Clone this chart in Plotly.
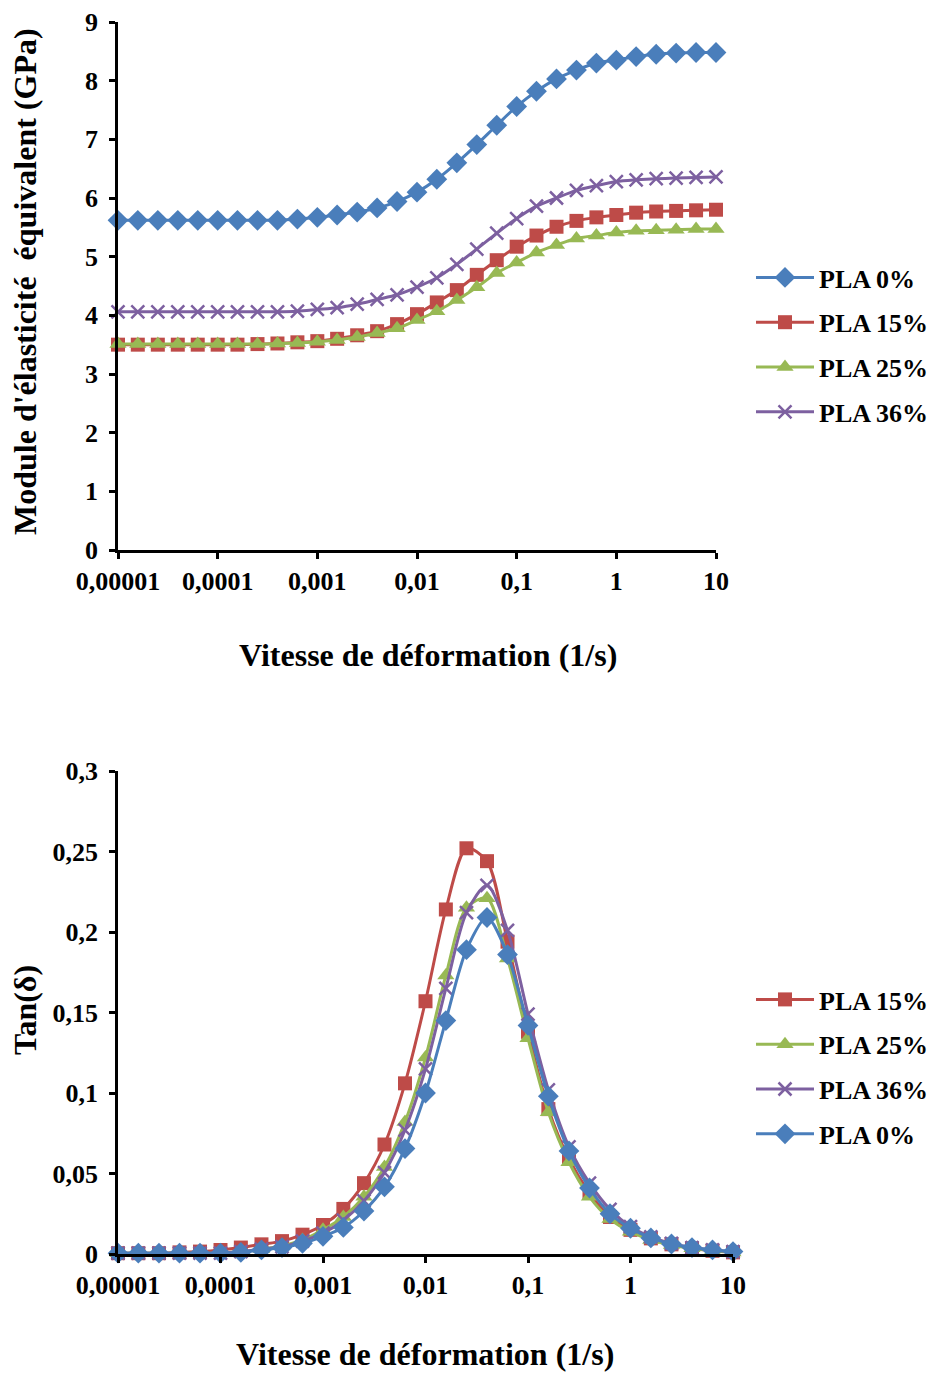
import plotly.graph_objects as go

# Strain rate (1/s), 5 points per decade
rates = [0.00001, 0.0000158, 0.0000251, 0.0000398, 0.0000631,
         0.0001, 0.000158, 0.000251, 0.000398, 0.000631,
         0.001, 0.00158, 0.00251, 0.00398, 0.00631,
         0.01, 0.0158, 0.0251, 0.0398, 0.0631,
         0.1, 0.158, 0.251, 0.398, 0.631,
         1, 1.58, 2.51, 3.98, 6.31, 10]

# Equivalent elastic modulus (GPa)
E_pla0 = [5.62, 5.62, 5.62, 5.62, 5.62, 5.62, 5.62, 5.62, 5.62, 5.64,
          5.67, 5.71, 5.76, 5.83, 5.94, 6.10, 6.32, 6.60, 6.91, 7.24,
          7.56, 7.82, 8.03, 8.18, 8.30, 8.35, 8.41, 8.45, 8.47, 8.48, 8.48]
E_pla15 = [3.50, 3.50, 3.50, 3.50, 3.50, 3.50, 3.50, 3.51, 3.52, 3.54,
           3.56, 3.60, 3.66, 3.73, 3.85, 4.02, 4.22, 4.43, 4.69, 4.94,
           5.17, 5.36, 5.51, 5.61, 5.67, 5.71, 5.75, 5.77, 5.78, 5.79, 5.80]
E_pla25 = [3.51, 3.51, 3.51, 3.51, 3.51, 3.51, 3.51, 3.51, 3.52, 3.53,
           3.55, 3.58, 3.63, 3.70, 3.78, 3.92, 4.07, 4.26, 4.48, 4.72,
           4.90, 5.07, 5.20, 5.31, 5.36, 5.41, 5.44, 5.45, 5.46, 5.47, 5.47]
E_pla36 = [4.06, 4.06, 4.06, 4.06, 4.06, 4.06, 4.06, 4.06, 4.06, 4.07,
           4.10, 4.13, 4.19, 4.27, 4.35, 4.48, 4.64, 4.87, 5.13, 5.40,
           5.65, 5.86, 6.00, 6.13, 6.21, 6.28, 6.31, 6.33, 6.34, 6.35, 6.36]

# Tan(delta)
T_pla15 = [0.0005, 0.0005, 0.0005, 0.001, 0.0015, 0.0025, 0.004, 0.006, 0.008, 0.012,
           0.018, 0.028, 0.044, 0.068, 0.106, 0.157, 0.214, 0.252, 0.244, 0.194,
           0.138, 0.090, 0.059, 0.038, 0.023, 0.015, 0.0097, 0.006, 0.0035, 0.002, 0.001]
T_pla25 = [0.0005, 0.0005, 0.0005, 0.0005, 0.0005, 0.0005, 0.0015, 0.003, 0.005, 0.0087,
           0.015, 0.023, 0.0355, 0.054, 0.082, 0.122, 0.173, 0.215, 0.221, 0.1835,
           0.134, 0.088, 0.057, 0.0355, 0.0217, 0.0138, 0.0087, 0.0056, 0.0035, 0.002, 0.001]
T_pla36 = [0.0005, 0.0005, 0.0005, 0.0005, 0.0005, 0.0005, 0.0015, 0.003, 0.0045, 0.008,
           0.013, 0.021, 0.033, 0.0506, 0.077, 0.115, 0.165, 0.212, 0.229, 0.201,
           0.149, 0.102, 0.0665, 0.044, 0.0277, 0.017, 0.0107, 0.0066, 0.004, 0.0025, 0.0015]
T_pla0 = [0.0005, 0.0005, 0.0005, 0.0005, 0.0005, 0.0005, 0.001, 0.0025, 0.004, 0.0066,
          0.011, 0.0165, 0.0267, 0.0417, 0.0655, 0.100, 0.145, 0.189, 0.209, 0.186,
          0.142, 0.098, 0.064, 0.041, 0.025, 0.016, 0.010, 0.0062, 0.004, 0.0025, 0.0015]

x_tickvals = [0.00001, 0.0001, 0.001, 0.01, 0.1, 1, 10]
x_ticktext = ["0,00001", "0,0001", "0,001", "0,01", "0,1", "1", "10"]
y2_tickvals = [0, 0.05, 0.1, 0.15, 0.2, 0.25, 0.3]
y2_ticktext = ["0", "0,05", "0,1", "0,15", "0,2", "0,25", "0,3"]

C_BLUE = "#4A7EBB"
C_RED = "#BE4B48"
C_GREEN = "#98B954"
C_PURPLE = "#7D60A0"

FONT = "Liberation Serif"
W, H = 934, 1376

series_top = [
    ("PLA 0%", E_pla0, C_BLUE, "diamond", 16),
    ("PLA 15%", E_pla15, C_RED, "square", 14),
    ("PLA 25%", E_pla25, C_GREEN, "triangle-up", 15),
    ("PLA 36%", E_pla36, C_PURPLE, "x-thin", 13),
]
series_bot = [
    ("PLA 15%", T_pla15, C_RED, "square", 14),
    ("PLA 25%", T_pla25, C_GREEN, "triangle-up", 15),
    ("PLA 36%", T_pla36, C_PURPLE, "x-thin", 13),
    ("PLA 0%", T_pla0, C_BLUE, "diamond", 16),
]

fig = go.Figure()


def add(name, ys, color, sym, size, xa, ya, leg, grp):
    mline = dict(width=2.5, color=color) if sym == "x-thin" else dict(width=0)
    fig.add_trace(go.Scatter(
        x=rates, y=ys, name=name, mode="lines+markers",
        line=dict(color=color, width=3, shape="spline", smoothing=0.8),
        marker=dict(symbol=sym, size=size, color=color, line=mline),
        xaxis=xa, yaxis=ya, legend=leg, legendgroup=grp, cliponaxis=False,
    ))


for i, s in enumerate(series_top):
    add(*s, "x", "y", "legend", "a%d" % i)
for i, s in enumerate(series_bot):
    add(*s, "x2", "y2", "legend2", "b%d" % i)

tickfont = dict(family=FONT, size=26, color="black", weight="bold")
axis_common = dict(showline=True, linecolor="black", linewidth=2.5, ticks="outside",
                   ticklen=6, tickwidth=2.5, tickcolor="black", showgrid=False,
                   zeroline=False, tickfont=tickfont, automargin=False)


def px_x(p):
    return p / W


def px_y(p):
    return 1 - p / H


legend_common = dict(xanchor="left", yanchor="middle",
                     font=dict(family=FONT, size=26, color="black", weight="bold"),
                     itemwidth=58, tracegroupgap=8, traceorder="grouped",
                     bgcolor="rgba(0,0,0,0)")

fig.update_layout(
    width=W, height=H,
    margin=dict(l=0, r=0, t=0, b=0, autoexpand=False),
    paper_bgcolor="white", plot_bgcolor="white",
    showlegend=True,
    xaxis=dict(type="log", range=[-5, 1], tickvals=x_tickvals, ticktext=x_ticktext,
               domain=[px_x(118), px_x(716)], anchor="y", ticklabelstandoff=0, **axis_common),
    yaxis=dict(range=[0, 9], dtick=1, domain=[px_y(550), px_y(22)], anchor="x",
               ticklabelstandoff=6, **axis_common),
    xaxis2=dict(type="log", range=[-5, 1], tickvals=x_tickvals, ticktext=x_ticktext,
                domain=[px_x(118), px_x(733)], anchor="y2", ticklabelstandoff=0, **axis_common),
    yaxis2=dict(range=[0, 0.3], tickvals=y2_tickvals, ticktext=y2_ticktext,
                domain=[px_y(1254), px_y(771)], anchor="x2", ticklabelstandoff=6, **axis_common),
    legend=dict(x=px_x(751), y=px_y(345), **legend_common),
    legend2=dict(x=px_x(751), y=px_y(1067), **legend_common),
)

title_font = dict(family=FONT, size=32, color="black", weight="bold")
fig.add_annotation(text="Vitesse de déformation (1/s)", x=px_x(428), y=px_y(655),
                   xref="paper", yref="paper", showarrow=False, font=title_font,
                   xanchor="center", yanchor="middle")
fig.add_annotation(text="Vitesse de déformation (1/s)", x=px_x(425), y=px_y(1354),
                   xref="paper", yref="paper", showarrow=False, font=title_font,
                   xanchor="center", yanchor="middle")
fig.add_annotation(text="Module d'élasticité  équivalent (GPa)", x=px_x(25), y=px_y(282),
                   xref="paper", yref="paper", showarrow=False, font=title_font,
                   textangle=-90, xanchor="center", yanchor="middle")
fig.add_annotation(text="Tan(δ)", x=px_x(25), y=px_y(1010),
                   xref="paper", yref="paper", showarrow=False, font=title_font,
                   textangle=-90, xanchor="center", yanchor="middle")

# remove the default page margin so the figure fills the 934x1376 window exactly
fig.write_html("out.html", config={"displayModeBar": False},
               post_script="document.body.style.margin='0';document.body.style.overflow='hidden';")
